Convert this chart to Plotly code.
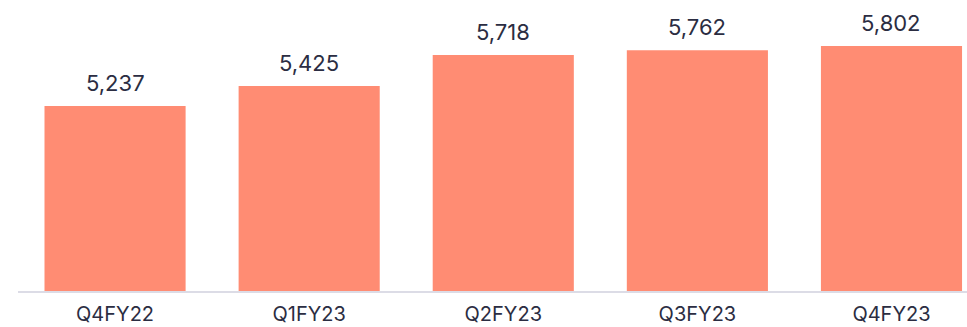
import plotly.graph_objects as go

# Quarterly values
quarters = ["Q4FY22", "Q1FY23", "Q2FY23", "Q3FY23", "Q4FY23"]
values = [5237, 5425, 5718, 5762, 5802]
value_labels = ["5,237", "5,425", "5,718", "5,762", "5,802"]

BAR_COLOR = "#FF8C73"
TEXT_COLOR = "#2B2D42"
FONT = "Inter, Roboto, sans-serif"

fig = go.Figure(
    go.Bar(
        x=quarters,
        y=values,
        marker=dict(color=BAR_COLOR, line=dict(width=0)),
        width=0.727,
        hoverinfo="skip",
    )
)

# Value labels above each bar
for q, v, lab in zip(quarters, values, value_labels):
    fig.add_annotation(
        x=q, y=v, text=lab, showarrow=False,
        yanchor="bottom", yshift=8,
        font=dict(family=FONT, size=22, color=TEXT_COLOR),
    )

fig.update_layout(
    width=967, height=327,
    margin=dict(l=18, r=0, t=0, b=36, autoexpand=False),
    paper_bgcolor="white", plot_bgcolor="white",
    showlegend=False,
    font=dict(family=FONT, size=20, color=TEXT_COLOR),
    xaxis=dict(
        range=[-0.5, 4.389],
        automargin=False,
        showgrid=False, zeroline=False,
        showline=True, linecolor="#DCDCE6", linewidth=2,
        ticks="", ticklabelstandoff=4,
        tickfont=dict(family=FONT, size=20, color=TEXT_COLOR),
    ),
    yaxis=dict(
        range=[3495, 6235],
        visible=False, showgrid=False, zeroline=False,
    ),
)

fig.write_html("out.html")
